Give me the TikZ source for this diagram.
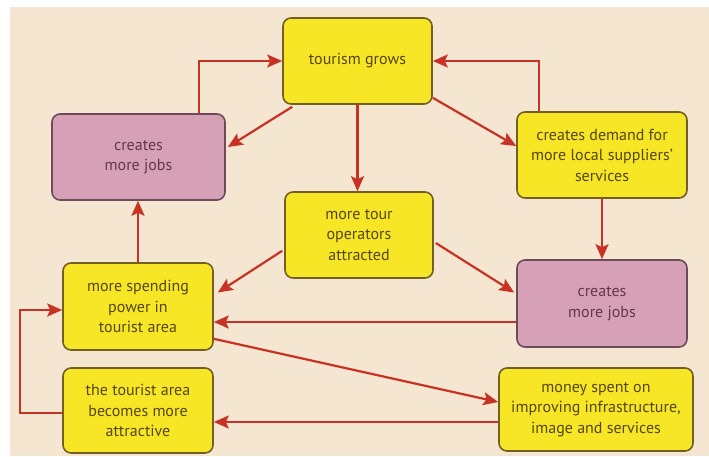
\documentclass[tikz,border=0pt]{standalone}
\usepackage{fontspec}
\setmainfont{PT Sans}
\usetikzlibrary{arrows.meta,calc}
\definecolor{bgbeige}{RGB}{245,230,210}
\definecolor{boxyellow}{RGB}{247,230,38}
\definecolor{yborder}{RGB}{115,95,35}
\definecolor{boxpink}{RGB}{214,160,182}
\definecolor{pborder}{RGB}{110,75,90}
\definecolor{arrred}{RGB}{200,50,36}
\definecolor{ytext}{RGB}{85,70,15}
\definecolor{ptext}{RGB}{100,55,75}
\tikzset{
  basebox/.style={draw, line width=1.6pt, rounded corners=8pt, inner sep=0pt, align=center,
    font=\fontsize{16}{20.5}\selectfont},
  ybox/.style={basebox, fill=boxyellow, draw=yborder, text=ytext},
  pbox/.style={basebox, fill=boxpink, draw=pborder, text=ptext},
  arr/.style={draw=arrred, line width=2.2pt, -{Stealth[length=15pt,width=13pt,inset=3pt]}}
}
\begin{document}
\begin{tikzpicture}[x=1pt,y=-1pt]
\useasboundingbox (0,0) rectangle (709,456);
\fill[white] (0,0) rectangle (709,456);
\fill[bgbeige] (10,7) rectangle (709,456);

\node[ybox, minimum width=149pt, minimum height=86pt] (TG) at (357.5,61) {tourism grows};
\node[pbox, minimum width=173pt, minimum height=86pt] (JL) at (138.5,157) {creates\\more jobs};
\node[ybox, minimum width=170pt, minimum height=86pt] (DM) at (602,155) {creates demand for\\more local suppliers’\\services};
\node[ybox, minimum width=148pt, minimum height=86pt] (TO) at (359,235) {more tour\\operators\\attracted};
\node[ybox, minimum width=150pt, minimum height=87pt] (SP) at (138,306.5) {more spending\\power in\\tourist area};
\node[pbox, minimum width=170pt, minimum height=87pt] (JR) at (602,303.5) {creates\\more jobs};
\node[ybox, minimum width=150pt, minimum height=85pt] (TA) at (138,410.5) {the tourist area\\becomes more\\attractive};
\node[ybox, minimum width=194pt, minimum height=83pt] (MS) at (596,409.5) {money spent on\\improving infrastructure,\\image and services};

% top loops
\draw[arr] ($(JL.north)+(60.5,0)$) |- (TG.west);
\draw[arr] ($(DM.north)+(-63,0)$) |- (TG.east);
% from tourism grows
\draw[arr] ($(TG.south west)+(10,2)$) -- ($(JL.east)+(2,-10)$);
\draw[arr] ($(TG.south east)+(0,-7)$) -- ($(DM.west)+(0,-9)$);
\draw[arr] (TG.south) -- (TG.south |- TO.north);
% demand down
\draw[arr] (DM.south) -- (JR.north);
% from tour operators
\draw[arr] ($(TO.south west)+(-2,-28)$) -- ($(SP.east)+(4,-14)$);
\draw[arr] ($(TO.east)+(2,8)$) -- ($(JR.west)+(-2,-11)$);
% jobs right to spending
\coordinate (jrs) at ($(JR.west)+(0,18.5)$);
\draw[arr] (jrs) -- (SP.east |- jrs);
% spending to money
\draw[arr] ($(SP.south east)+(0,-12)$) -- ($(MS.west)+(0,-7.5)$);
% money to tourist area
\coordinate (mst) at ($(MS.west)+(0,12.5)$);
\draw[arr] (mst) -- (TA.east |- mst);
% spending up to jobs
\draw[arr] (SP.north) -- (SP.north |- JL.south);
% loop from tourist area back to spending
\draw[arr] ($(TA.west)+(0,2.5)$) -- ++(-42,0) |- ($(SP.west)+(0,3.5)$);
\end{tikzpicture}
\end{document}
